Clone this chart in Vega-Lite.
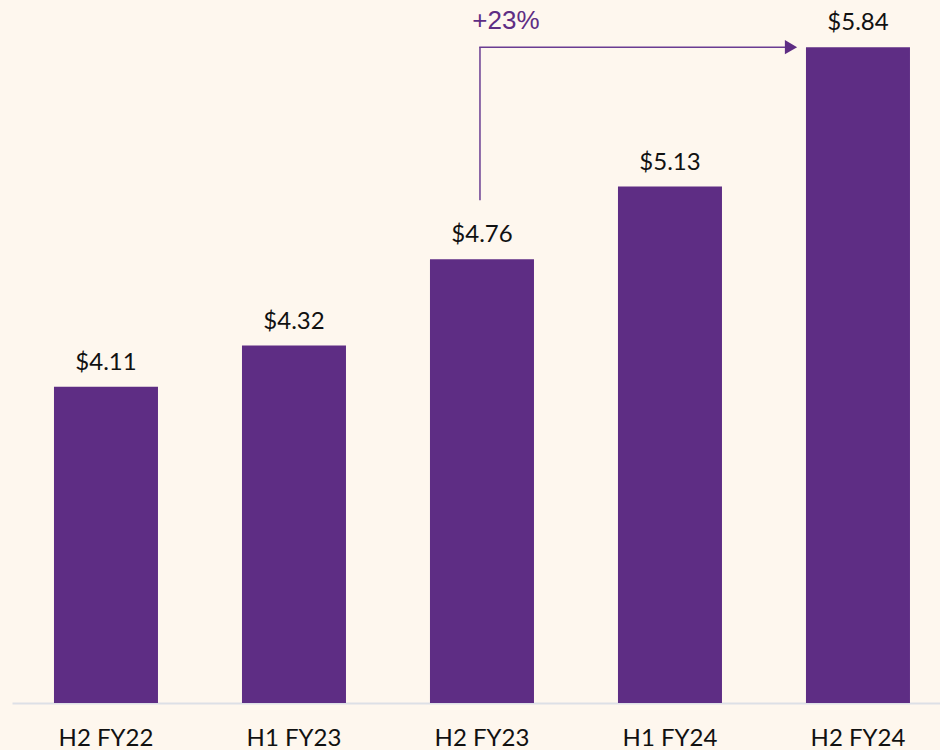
{
  "$schema": "https://vega.github.io/schema/vega-lite/v6.json",
  "width": 928,
  "height": 703,
  "autosize": {"type": "none"},
  "padding": {"left": 12, "top": 0, "right": 0, "bottom": 47},
  "background": "#FEF7EE",
  "config": {"view": {"stroke": null}},
  "datasets": {
    "bars": [
      {"period": "H2 FY22", "value": 4.11, "label": "$4.11"},
      {"period": "H1 FY23", "value": 4.32, "label": "$4.32"},
      {"period": "H2 FY23", "value": 4.76, "label": "$4.76"},
      {"period": "H1 FY24", "value": 5.13, "label": "$5.13"},
      {"period": "H2 FY24", "value": 5.84, "label": "$5.84"}
    ],
    "vline": [{"period": "H2 FY23", "y": 5.06, "y2": 5.84}],
    "hline": [{"period": "H2 FY23", "period2": "H2 FY24", "y": 5.84}],
    "head": [{"period": "H2 FY24", "y": 5.84}],
    "note": [{"period": "H2 FY23", "y": 5.932, "text": "+23%"}]
  },
  "layer": [
    {
      "data": {"name": "bars"},
      "mark": {"type": "bar", "color": "#5E2D84"},
      "encoding": {
        "x": {
          "field": "period",
          "type": "nominal",
          "scale": {"domain": ["H2 FY22", "H1 FY23", "H2 FY23", "H1 FY24", "H2 FY24"], "paddingInner": 0.4468, "paddingOuter": 0.1915, "align": 0.583},
          "axis": {
            "title": null,
            "labelAngle": 0,
            "ticks": false,
            "domainColor": "#dde0e6",
            "domainWidth": 2,
            "labelFont": "Lato",
            "labelFontSize": 24,
            "labelColor": "#111111",
            "labelPadding": 23
          }
        },
        "y": {"field": "value", "type": "quantitative", "scale": {"domain": [2.5, 6.08], "nice": false, "zero": false}, "axis": null},
        "y2": {"datum": 2.5}
      }
    },
    {
      "data": {"name": "bars"},
      "mark": {"type": "text", "dy": -17, "baseline": "alphabetic", "font": "Lato", "fontSize": 24, "color": "#111111"},
      "encoding": {
        "x": {"field": "period", "type": "nominal"},
        "y": {"field": "value", "type": "quantitative"},
        "text": {"field": "label"}
      }
    },
    {
      "data": {"name": "vline"},
      "mark": {"type": "rule", "color": "#6A3D92", "strokeWidth": 1.5, "xOffset": -2},
      "encoding": {
        "x": {"field": "period", "type": "nominal"},
        "y": {"field": "y", "type": "quantitative"},
        "y2": {"field": "y2"}
      }
    },
    {
      "data": {"name": "hline"},
      "mark": {"type": "rule", "color": "#6A3D92", "strokeWidth": 1.5, "xOffset": -2.75, "x2Offset": -66},
      "encoding": {
        "x": {"field": "period", "type": "nominal"},
        "x2": {"field": "period2"},
        "y": {"field": "y", "type": "quantitative"}
      }
    },
    {
      "data": {"name": "head"},
      "mark": {"type": "point", "shape": "triangle-right", "filled": true, "opacity": 1, "color": "#5E2D84", "size": 200, "xOffset": -67},
      "encoding": {
        "x": {"field": "period", "type": "nominal"},
        "y": {"field": "y", "type": "quantitative"}
      }
    },
    {
      "data": {"name": "note"},
      "mark": {"type": "text", "dx": 24, "baseline": "alphabetic", "font": "Liberation Sans", "fontSize": 26, "color": "#5E2D84"},
      "encoding": {
        "x": {"field": "period", "type": "nominal"},
        "y": {"field": "y", "type": "quantitative"},
        "text": {"field": "text"}
      }
    }
  ]
}
